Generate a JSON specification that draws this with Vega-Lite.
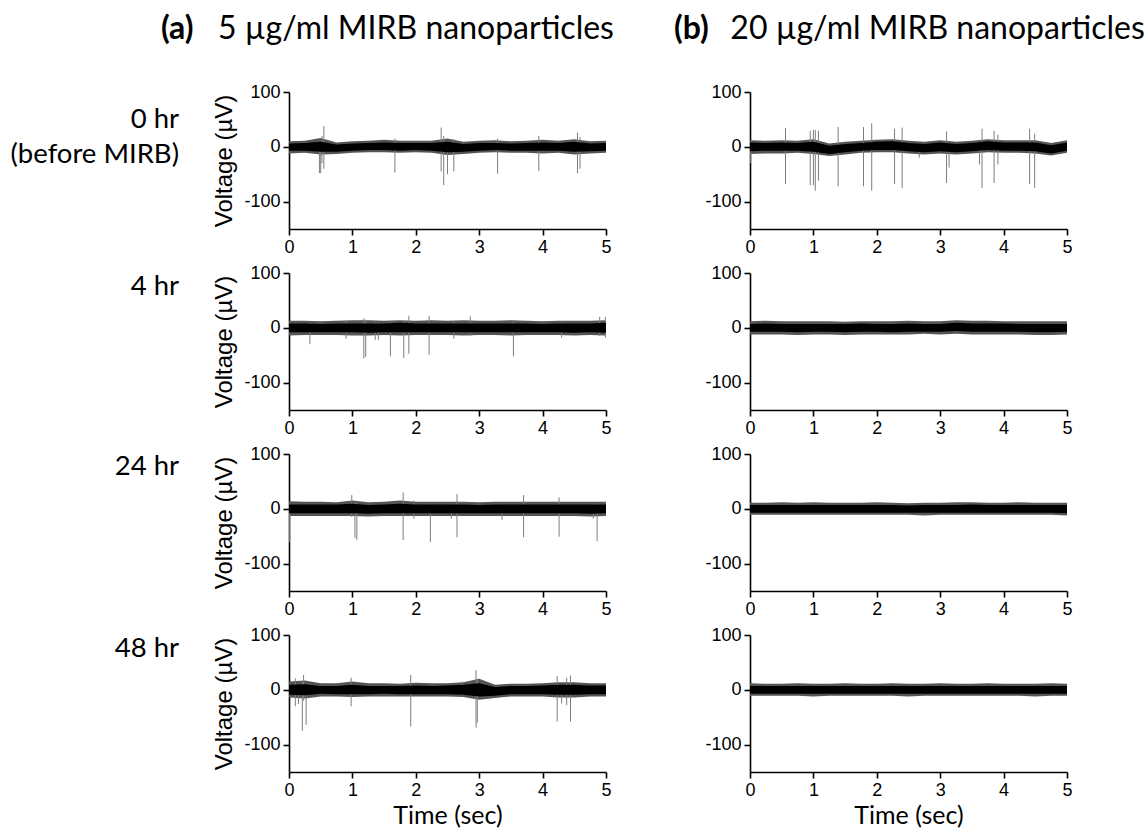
{
  "$schema": "https://vega.github.io/schema/vega-lite/v6.json",
  "padding": {"left": 10, "top": 12, "right": 5, "bottom": 2},
  "datasets": {
    "noise": [
      {"p":"a0","t":0,"lo":-7,"hi":6,"lo2":-12,"hi2":10},{"p":"a0","t":0.25,"lo":-7,"hi":7,"lo2":-11,"hi2":11},{"p":"a0","t":0.5,"lo":-9,"hi":9,"lo2":-14,"hi2":16},{"p":"a0","t":0.75,"lo":-9,"hi":4,"lo2":-13,"hi2":8},{"p":"a0","t":1,"lo":-7,"hi":6,"lo2":-11,"hi2":10},{"p":"a0","t":1.25,"lo":-6,"hi":7,"lo2":-10,"hi2":11},{"p":"a0","t":1.5,"lo":-6,"hi":8,"lo2":-10,"hi2":13},{"p":"a0","t":1.75,"lo":-7,"hi":7,"lo2":-11,"hi2":11},{"p":"a0","t":2,"lo":-6,"hi":7,"lo2":-10,"hi2":11},{"p":"a0","t":2.25,"lo":-7,"hi":7,"lo2":-11,"hi2":11},{"p":"a0","t":2.5,"lo":-10,"hi":9,"lo2":-15,"hi2":15},{"p":"a0","t":2.75,"lo":-9,"hi":5,"lo2":-13,"hi2":9},{"p":"a0","t":3,"lo":-7,"hi":7,"lo2":-11,"hi2":11},{"p":"a0","t":3.25,"lo":-6,"hi":7,"lo2":-10,"hi2":12},{"p":"a0","t":3.5,"lo":-7,"hi":6,"lo2":-11,"hi2":10},{"p":"a0","t":3.75,"lo":-7,"hi":7,"lo2":-11,"hi2":11},{"p":"a0","t":4,"lo":-7,"hi":8,"lo2":-12,"hi2":13},{"p":"a0","t":4.25,"lo":-7,"hi":7,"lo2":-11,"hi2":11},{"p":"a0","t":4.5,"lo":-9,"hi":9,"lo2":-14,"hi2":14},{"p":"a0","t":4.75,"lo":-8,"hi":6,"lo2":-12,"hi2":10},{"p":"a0","t":5,"lo":-7,"hi":7,"lo2":-11,"hi2":11},
      {"p":"b0","t":0,"lo":-8,"hi":8,"lo2":-13,"hi2":12},{"p":"b0","t":0.25,"lo":-7,"hi":7,"lo2":-12,"hi2":11},{"p":"b0","t":0.5,"lo":-7,"hi":8,"lo2":-12,"hi2":12},{"p":"b0","t":0.75,"lo":-7,"hi":7,"lo2":-11,"hi2":11},{"p":"b0","t":1,"lo":-9,"hi":9,"lo2":-13,"hi2":14},{"p":"b0","t":1.25,"lo":-13,"hi":2,"lo2":-17,"hi2":6},{"p":"b0","t":1.5,"lo":-10,"hi":5,"lo2":-14,"hi2":9},{"p":"b0","t":1.75,"lo":-7,"hi":7,"lo2":-11,"hi2":11},{"p":"b0","t":2,"lo":-6,"hi":9,"lo2":-10,"hi2":13},{"p":"b0","t":2.25,"lo":-6,"hi":10,"lo2":-10,"hi2":14},{"p":"b0","t":2.5,"lo":-8,"hi":7,"lo2":-12,"hi2":11},{"p":"b0","t":2.75,"lo":-10,"hi":5,"lo2":-14,"hi2":9},{"p":"b0","t":3,"lo":-8,"hi":8,"lo2":-12,"hi2":12},{"p":"b0","t":3.25,"lo":-10,"hi":5,"lo2":-14,"hi2":9},{"p":"b0","t":3.5,"lo":-8,"hi":7,"lo2":-12,"hi2":11},{"p":"b0","t":3.75,"lo":-6,"hi":10,"lo2":-10,"hi2":14},{"p":"b0","t":4,"lo":-7,"hi":8,"lo2":-11,"hi2":12},{"p":"b0","t":4.25,"lo":-7,"hi":8,"lo2":-11,"hi2":12},{"p":"b0","t":4.5,"lo":-8,"hi":8,"lo2":-12,"hi2":12},{"p":"b0","t":4.75,"lo":-12,"hi":3,"lo2":-16,"hi2":7},{"p":"b0","t":5,"lo":-7,"hi":8,"lo2":-11,"hi2":12},
      {"p":"a1","t":0,"lo":-8,"hi":8,"lo2":-14,"hi2":13},{"p":"a1","t":0.25,"lo":-8,"hi":8,"lo2":-13,"hi2":13},{"p":"a1","t":0.5,"lo":-8,"hi":7,"lo2":-13,"hi2":12},{"p":"a1","t":0.75,"lo":-8,"hi":8,"lo2":-13,"hi2":13},{"p":"a1","t":1,"lo":-8,"hi":8,"lo2":-14,"hi2":14},{"p":"a1","t":1.25,"lo":-9,"hi":8,"lo2":-14,"hi2":14},{"p":"a1","t":1.5,"lo":-8,"hi":8,"lo2":-13,"hi2":13},{"p":"a1","t":1.75,"lo":-8,"hi":9,"lo2":-14,"hi2":14},{"p":"a1","t":2,"lo":-8,"hi":8,"lo2":-13,"hi2":13},{"p":"a1","t":2.25,"lo":-8,"hi":8,"lo2":-13,"hi2":14},{"p":"a1","t":2.5,"lo":-8,"hi":8,"lo2":-13,"hi2":13},{"p":"a1","t":2.75,"lo":-8,"hi":8,"lo2":-14,"hi2":14},{"p":"a1","t":3,"lo":-8,"hi":8,"lo2":-13,"hi2":13},{"p":"a1","t":3.25,"lo":-8,"hi":8,"lo2":-13,"hi2":13},{"p":"a1","t":3.5,"lo":-8,"hi":8,"lo2":-14,"hi2":14},{"p":"a1","t":3.75,"lo":-8,"hi":8,"lo2":-13,"hi2":13},{"p":"a1","t":4,"lo":-8,"hi":7,"lo2":-13,"hi2":12},{"p":"a1","t":4.25,"lo":-8,"hi":8,"lo2":-13,"hi2":13},{"p":"a1","t":4.5,"lo":-9,"hi":8,"lo2":-14,"hi2":13},{"p":"a1","t":4.75,"lo":-8,"hi":8,"lo2":-13,"hi2":13},{"p":"a1","t":5,"lo":-9,"hi":9,"lo2":-14,"hi2":14},
      {"p":"b1","t":0,"lo":-7,"hi":7,"lo2":-12,"hi2":12},{"p":"b1","t":0.25,"lo":-7,"hi":8,"lo2":-12,"hi2":13},{"p":"b1","t":0.5,"lo":-7,"hi":7,"lo2":-12,"hi2":12},{"p":"b1","t":0.75,"lo":-8,"hi":7,"lo2":-13,"hi2":12},{"p":"b1","t":1,"lo":-7,"hi":7,"lo2":-12,"hi2":12},{"p":"b1","t":1.25,"lo":-7,"hi":7,"lo2":-12,"hi2":12},{"p":"b1","t":1.5,"lo":-8,"hi":7,"lo2":-13,"hi2":11},{"p":"b1","t":1.75,"lo":-7,"hi":8,"lo2":-12,"hi2":12},{"p":"b1","t":2,"lo":-7,"hi":7,"lo2":-12,"hi2":12},{"p":"b1","t":2.25,"lo":-8,"hi":7,"lo2":-12,"hi2":12},{"p":"b1","t":2.5,"lo":-7,"hi":8,"lo2":-12,"hi2":13},{"p":"b1","t":2.75,"lo":-7,"hi":7,"lo2":-11,"hi2":12},{"p":"b1","t":3,"lo":-7,"hi":7,"lo2":-12,"hi2":12},{"p":"b1","t":3.25,"lo":-6,"hi":9,"lo2":-11,"hi2":14},{"p":"b1","t":3.5,"lo":-7,"hi":8,"lo2":-12,"hi2":13},{"p":"b1","t":3.75,"lo":-7,"hi":8,"lo2":-12,"hi2":13},{"p":"b1","t":4,"lo":-7,"hi":8,"lo2":-12,"hi2":12},{"p":"b1","t":4.25,"lo":-7,"hi":7,"lo2":-12,"hi2":12},{"p":"b1","t":4.5,"lo":-8,"hi":7,"lo2":-13,"hi2":12},{"p":"b1","t":4.75,"lo":-8,"hi":7,"lo2":-13,"hi2":12},{"p":"b1","t":5,"lo":-7,"hi":7,"lo2":-12,"hi2":12},
      {"p":"a2","t":0,"lo":-8,"hi":8,"lo2":-13,"hi2":14},{"p":"a2","t":0.25,"lo":-8,"hi":8,"lo2":-13,"hi2":13},{"p":"a2","t":0.5,"lo":-8,"hi":8,"lo2":-13,"hi2":13},{"p":"a2","t":0.75,"lo":-8,"hi":8,"lo2":-13,"hi2":12},{"p":"a2","t":1,"lo":-8,"hi":9,"lo2":-13,"hi2":15},{"p":"a2","t":1.25,"lo":-9,"hi":7,"lo2":-14,"hi2":12},{"p":"a2","t":1.5,"lo":-8,"hi":8,"lo2":-13,"hi2":13},{"p":"a2","t":1.75,"lo":-8,"hi":9,"lo2":-13,"hi2":15},{"p":"a2","t":2,"lo":-8,"hi":8,"lo2":-13,"hi2":13},{"p":"a2","t":2.25,"lo":-8,"hi":8,"lo2":-13,"hi2":13},{"p":"a2","t":2.5,"lo":-8,"hi":8,"lo2":-13,"hi2":13},{"p":"a2","t":2.75,"lo":-8,"hi":8,"lo2":-13,"hi2":13},{"p":"a2","t":3,"lo":-8,"hi":7,"lo2":-13,"hi2":12},{"p":"a2","t":3.25,"lo":-8,"hi":8,"lo2":-13,"hi2":13},{"p":"a2","t":3.5,"lo":-8,"hi":8,"lo2":-13,"hi2":13},{"p":"a2","t":3.75,"lo":-8,"hi":8,"lo2":-13,"hi2":13},{"p":"a2","t":4,"lo":-8,"hi":8,"lo2":-13,"hi2":13},{"p":"a2","t":4.25,"lo":-8,"hi":8,"lo2":-13,"hi2":13},{"p":"a2","t":4.5,"lo":-8,"hi":8,"lo2":-13,"hi2":13},{"p":"a2","t":4.75,"lo":-9,"hi":8,"lo2":-14,"hi2":13},{"p":"a2","t":5,"lo":-8,"hi":8,"lo2":-13,"hi2":13},
      {"p":"b2","t":0,"lo":-7,"hi":7,"lo2":-11,"hi2":11},{"p":"b2","t":0.25,"lo":-7,"hi":7,"lo2":-11,"hi2":11},{"p":"b2","t":0.5,"lo":-7,"hi":7,"lo2":-11,"hi2":12},{"p":"b2","t":0.75,"lo":-7,"hi":7,"lo2":-11,"hi2":11},{"p":"b2","t":1,"lo":-7,"hi":7,"lo2":-11,"hi2":12},{"p":"b2","t":1.25,"lo":-7,"hi":7,"lo2":-11,"hi2":11},{"p":"b2","t":1.5,"lo":-7,"hi":7,"lo2":-11,"hi2":11},{"p":"b2","t":1.75,"lo":-7,"hi":7,"lo2":-11,"hi2":11},{"p":"b2","t":2,"lo":-7,"hi":7,"lo2":-11,"hi2":12},{"p":"b2","t":2.25,"lo":-7,"hi":7,"lo2":-11,"hi2":11},{"p":"b2","t":2.5,"lo":-7,"hi":6,"lo2":-11,"hi2":10},{"p":"b2","t":2.75,"lo":-7,"hi":7,"lo2":-12,"hi2":11},{"p":"b2","t":3,"lo":-7,"hi":7,"lo2":-11,"hi2":11},{"p":"b2","t":3.25,"lo":-7,"hi":7,"lo2":-11,"hi2":12},{"p":"b2","t":3.5,"lo":-7,"hi":8,"lo2":-11,"hi2":12},{"p":"b2","t":3.75,"lo":-7,"hi":7,"lo2":-11,"hi2":11},{"p":"b2","t":4,"lo":-7,"hi":7,"lo2":-11,"hi2":11},{"p":"b2","t":4.25,"lo":-7,"hi":7,"lo2":-11,"hi2":12},{"p":"b2","t":4.5,"lo":-7,"hi":7,"lo2":-11,"hi2":11},{"p":"b2","t":4.75,"lo":-7,"hi":7,"lo2":-11,"hi2":11},{"p":"b2","t":5,"lo":-8,"hi":7,"lo2":-12,"hi2":11},
      {"p":"a3","t":0,"lo":-9,"hi":9,"lo2":-14,"hi2":15},{"p":"a3","t":0.25,"lo":-10,"hi":10,"lo2":-16,"hi2":17},{"p":"a3","t":0.5,"lo":-7,"hi":7,"lo2":-12,"hi2":12},{"p":"a3","t":0.75,"lo":-8,"hi":7,"lo2":-12,"hi2":12},{"p":"a3","t":1,"lo":-8,"hi":9,"lo2":-13,"hi2":15},{"p":"a3","t":1.25,"lo":-8,"hi":7,"lo2":-12,"hi2":12},{"p":"a3","t":1.5,"lo":-7,"hi":7,"lo2":-12,"hi2":12},{"p":"a3","t":1.75,"lo":-8,"hi":7,"lo2":-12,"hi2":11},{"p":"a3","t":2,"lo":-8,"hi":8,"lo2":-12,"hi2":13},{"p":"a3","t":2.25,"lo":-8,"hi":7,"lo2":-12,"hi2":12},{"p":"a3","t":2.5,"lo":-8,"hi":8,"lo2":-12,"hi2":12},{"p":"a3","t":2.75,"lo":-9,"hi":9,"lo2":-13,"hi2":14},{"p":"a3","t":3,"lo":-12,"hi":12,"lo2":-18,"hi2":20},{"p":"a3","t":3.25,"lo":-11,"hi":5,"lo2":-15,"hi2":9},{"p":"a3","t":3.5,"lo":-8,"hi":7,"lo2":-12,"hi2":11},{"p":"a3","t":3.75,"lo":-8,"hi":7,"lo2":-12,"hi2":11},{"p":"a3","t":4,"lo":-8,"hi":8,"lo2":-12,"hi2":12},{"p":"a3","t":4.25,"lo":-9,"hi":9,"lo2":-14,"hi2":14},{"p":"a3","t":4.5,"lo":-9,"hi":9,"lo2":-14,"hi2":14},{"p":"a3","t":4.75,"lo":-8,"hi":8,"lo2":-12,"hi2":12},{"p":"a3","t":5,"lo":-8,"hi":8,"lo2":-12,"hi2":12},
      {"p":"b3","t":0,"lo":-7,"hi":7,"lo2":-11,"hi2":12},{"p":"b3","t":0.25,"lo":-7,"hi":7,"lo2":-11,"hi2":11},{"p":"b3","t":0.5,"lo":-7,"hi":7,"lo2":-11,"hi2":11},{"p":"b3","t":0.75,"lo":-7,"hi":7,"lo2":-11,"hi2":12},{"p":"b3","t":1,"lo":-7,"hi":7,"lo2":-12,"hi2":11},{"p":"b3","t":1.25,"lo":-7,"hi":7,"lo2":-11,"hi2":11},{"p":"b3","t":1.5,"lo":-7,"hi":7,"lo2":-11,"hi2":12},{"p":"b3","t":1.75,"lo":-7,"hi":7,"lo2":-11,"hi2":11},{"p":"b3","t":2,"lo":-7,"hi":7,"lo2":-11,"hi2":11},{"p":"b3","t":2.25,"lo":-7,"hi":7,"lo2":-11,"hi2":12},{"p":"b3","t":2.5,"lo":-7,"hi":7,"lo2":-12,"hi2":11},{"p":"b3","t":2.75,"lo":-7,"hi":7,"lo2":-11,"hi2":11},{"p":"b3","t":3,"lo":-7,"hi":7,"lo2":-11,"hi2":12},{"p":"b3","t":3.25,"lo":-7,"hi":7,"lo2":-11,"hi2":11},{"p":"b3","t":3.5,"lo":-7,"hi":7,"lo2":-11,"hi2":11},{"p":"b3","t":3.75,"lo":-7,"hi":7,"lo2":-11,"hi2":12},{"p":"b3","t":4,"lo":-7,"hi":7,"lo2":-11,"hi2":11},{"p":"b3","t":4.25,"lo":-7,"hi":7,"lo2":-11,"hi2":11},{"p":"b3","t":4.5,"lo":-7,"hi":7,"lo2":-12,"hi2":11},{"p":"b3","t":4.75,"lo":-7,"hi":7,"lo2":-11,"hi2":12},{"p":"b3","t":5,"lo":-7,"hi":7,"lo2":-11,"hi2":11}
    ],
    "spikes": [
      {"p":"a0","t":0.48,"lo":-48,"hi":5},{"p":"a0","t":0.5,"lo":-48,"hi":8},{"p":"a0","t":0.52,"lo":-30,"hi":20},{"p":"a0","t":0.55,"lo":-40,"hi":38},{"p":"a0","t":1.67,"lo":-47,"hi":15},{"p":"a0","t":2.4,"lo":-45,"hi":35},{"p":"a0","t":2.44,"lo":-70,"hi":20},{"p":"a0","t":2.5,"lo":-50,"hi":5},{"p":"a0","t":2.6,"lo":-45,"hi":14},{"p":"a0","t":3.29,"lo":-49,"hi":15},{"p":"a0","t":3.94,"lo":-44,"hi":20},{"p":"a0","t":4.55,"lo":-48,"hi":26},{"p":"a0","t":4.59,"lo":-40,"hi":18},
      {"p":"b0","t":0.01,"lo":-30,"hi":5},{"p":"b0","t":0.56,"lo":-68,"hi":34},{"p":"b0","t":0.95,"lo":-70,"hi":29},{"p":"b0","t":1.0,"lo":-70,"hi":31},{"p":"b0","t":1.03,"lo":-80,"hi":31},{"p":"b0","t":1.08,"lo":-62,"hi":29},{"p":"b0","t":1.39,"lo":-72,"hi":36},{"p":"b0","t":1.79,"lo":-72,"hi":36},{"p":"b0","t":1.92,"lo":-80,"hi":43},{"p":"b0","t":2.28,"lo":-68,"hi":33},{"p":"b0","t":2.4,"lo":-75,"hi":35},{"p":"b0","t":2.67,"lo":-20,"hi":5},{"p":"b0","t":3.1,"lo":-66,"hi":28},{"p":"b0","t":3.14,"lo":-38,"hi":5},{"p":"b0","t":3.62,"lo":-32,"hi":8},{"p":"b0","t":3.66,"lo":-75,"hi":33},{"p":"b0","t":3.85,"lo":-66,"hi":29},{"p":"b0","t":3.91,"lo":-32,"hi":22},{"p":"b0","t":4.41,"lo":-68,"hi":33},{"p":"b0","t":4.49,"lo":-75,"hi":24},
      {"p":"a1","t":0.33,"lo":-30,"hi":8},{"p":"a1","t":0.9,"lo":-20,"hi":12},{"p":"a1","t":1.18,"lo":-56,"hi":17},{"p":"a1","t":1.21,"lo":-53,"hi":15},{"p":"a1","t":1.36,"lo":-22,"hi":10},{"p":"a1","t":1.41,"lo":-22,"hi":10},{"p":"a1","t":1.6,"lo":-52,"hi":12},{"p":"a1","t":1.81,"lo":-55,"hi":12},{"p":"a1","t":1.89,"lo":-47,"hi":22},{"p":"a1","t":2.21,"lo":-49,"hi":22},{"p":"a1","t":2.6,"lo":-20,"hi":12},{"p":"a1","t":2.86,"lo":-15,"hi":21},{"p":"a1","t":3.54,"lo":-52,"hi":12},{"p":"a1","t":4.3,"lo":-18,"hi":10},{"p":"a1","t":4.9,"lo":-15,"hi":20},{"p":"a1","t":4.99,"lo":-18,"hi":20},
      {"p":"a2","t":0.01,"lo":-61,"hi":8},{"p":"a2","t":0.99,"lo":-15,"hi":25},{"p":"a2","t":1.04,"lo":-53,"hi":12},{"p":"a2","t":1.07,"lo":-57,"hi":12},{"p":"a2","t":1.8,"lo":-57,"hi":30},{"p":"a2","t":1.97,"lo":-18,"hi":15},{"p":"a2","t":2.23,"lo":-61,"hi":8},{"p":"a2","t":2.56,"lo":-18,"hi":8},{"p":"a2","t":2.65,"lo":-52,"hi":27},{"p":"a2","t":3.36,"lo":-20,"hi":8},{"p":"a2","t":3.7,"lo":-52,"hi":25},{"p":"a2","t":4.26,"lo":-51,"hi":21},{"p":"a2","t":4.8,"lo":-18,"hi":8},{"p":"a2","t":4.86,"lo":-59,"hi":8},
      {"p":"a3","t":0.1,"lo":-30,"hi":21},{"p":"a3","t":0.15,"lo":-26,"hi":10},{"p":"a3","t":0.21,"lo":-75,"hi":15},{"p":"a3","t":0.23,"lo":-20,"hi":27},{"p":"a3","t":0.27,"lo":-64,"hi":10},{"p":"a3","t":0.98,"lo":-30,"hi":22},{"p":"a3","t":1.92,"lo":-67,"hi":27},{"p":"a3","t":2.73,"lo":-12,"hi":15},{"p":"a3","t":2.95,"lo":-69,"hi":36},{"p":"a3","t":2.97,"lo":-60,"hi":20},{"p":"a3","t":4.23,"lo":-58,"hi":25},{"p":"a3","t":4.3,"lo":-25,"hi":8},{"p":"a3","t":4.38,"lo":-28,"hi":22},{"p":"a3","t":4.44,"lo":-58,"hi":26}
    ]
  },
  "columns": 2,
  "spacing": {"row": 44, "column": 144},
  "bounds": "flush",
  "concat": [
    {"width": 317, "height": 137, "layer": [
      {"data": {"name": "noise"}, "transform": [{"filter": "datum.p === 'a0'"}], "mark": {"type": "area", "color": "#555555"},
       "encoding": {"x": {"field": "t", "type": "quantitative", "scale": {"domain": [0, 5], "nice": false, "zero": false}, "axis": {"values": [0,1,2,3,4,5], "format": "d", "title": null}},
                    "y": {"field": "lo2", "type": "quantitative", "scale": {"domain": [-150, 100], "nice": false}, "axis": {"values": [-100, 0, 100], "labelExpr": "'' + datum.value", "title": "Voltage (µV)"}},
                    "y2": {"field": "hi2"}}},
      {"data": {"name": "spikes"}, "transform": [{"filter": "datum.p === 'a0'"}], "mark": {"type": "rule", "color": "#7d7d7d", "strokeWidth": 1},
       "encoding": {"x": {"field": "t", "type": "quantitative"}, "y": {"field": "lo", "type": "quantitative"}, "y2": {"field": "hi"}}},
      {"data": {"name": "noise"}, "transform": [{"filter": "datum.p === 'a0'"}], "mark": {"type": "area", "color": "#000000"},
       "encoding": {"x": {"field": "t", "type": "quantitative"}, "y": {"field": "lo", "type": "quantitative"}, "y2": {"field": "hi"}}},
      {"data": {"values": [{"label": "0 hr\n(before MIRB)"}]}, "mark": {"type": "text", "align": "right", "baseline": "middle", "lineBreak": "\n", "lineHeight": 35, "font": "Lato", "fontSize": 27.5, "color": "#000"},
       "encoding": {"x": {"datum": -1.735, "type": "quantitative"}, "y": {"datum": 48, "type": "quantitative"}, "text": {"field": "label"}}},
      {"data": {"values": [{"label": "(a)"}]}, "mark": {"type": "text", "align": "left", "baseline": "middle", "font": "Lato", "fontSize": 32, "fontWeight": "bold", "color": "#000"},
       "encoding": {"x": {"datum": -2.02, "type": "quantitative"}, "y": {"datum": 215, "type": "quantitative"}, "text": {"field": "label"}}},
      {"data": {"values": [{"label": "5 µg/ml MIRB nanoparticles"}]}, "mark": {"type": "text", "align": "left", "baseline": "middle", "font": "Lato", "fontSize": 32, "color": "#000"},
       "encoding": {"x": {"datum": -1.12, "type": "quantitative"}, "y": {"datum": 215, "type": "quantitative"}, "text": {"field": "label"}}}
    ]},
    {"width": 317, "height": 137, "layer": [
      {"data": {"name": "noise"}, "transform": [{"filter": "datum.p === 'b0'"}], "mark": {"type": "area", "color": "#555555"},
       "encoding": {"x": {"field": "t", "type": "quantitative", "scale": {"domain": [0, 5], "nice": false, "zero": false}, "axis": {"values": [0,1,2,3,4,5], "format": "d", "title": null}},
                    "y": {"field": "lo2", "type": "quantitative", "scale": {"domain": [-150, 100], "nice": false}, "axis": {"values": [-100, 0, 100], "labelExpr": "'' + datum.value", "title": null}},
                    "y2": {"field": "hi2"}}},
      {"data": {"name": "spikes"}, "transform": [{"filter": "datum.p === 'b0'"}], "mark": {"type": "rule", "color": "#7d7d7d", "strokeWidth": 1},
       "encoding": {"x": {"field": "t", "type": "quantitative"}, "y": {"field": "lo", "type": "quantitative"}, "y2": {"field": "hi"}}},
      {"data": {"name": "noise"}, "transform": [{"filter": "datum.p === 'b0'"}], "mark": {"type": "area", "color": "#000000"},
       "encoding": {"x": {"field": "t", "type": "quantitative"}, "y": {"field": "lo", "type": "quantitative"}, "y2": {"field": "hi"}}},
      {"data": {"values": [{"label": "(b)"}]}, "mark": {"type": "text", "align": "left", "baseline": "middle", "font": "Lato", "fontSize": 32, "fontWeight": "bold", "color": "#000"},
       "encoding": {"x": {"datum": -1.2, "type": "quantitative"}, "y": {"datum": 215, "type": "quantitative"}, "text": {"field": "label"}}},
      {"data": {"values": [{"label": "20 µg/ml MIRB nanoparticles"}]}, "mark": {"type": "text", "align": "left", "baseline": "middle", "font": "Lato", "fontSize": 32, "color": "#000"},
       "encoding": {"x": {"datum": -0.31, "type": "quantitative"}, "y": {"datum": 215, "type": "quantitative"}, "text": {"field": "label"}}}
    ]},
    {"width": 317, "height": 137, "layer": [
      {"data": {"name": "noise"}, "transform": [{"filter": "datum.p === 'a1'"}], "mark": {"type": "area", "color": "#555555"},
       "encoding": {"x": {"field": "t", "type": "quantitative", "scale": {"domain": [0, 5], "nice": false, "zero": false}, "axis": {"values": [0,1,2,3,4,5], "format": "d", "title": null}},
                    "y": {"field": "lo2", "type": "quantitative", "scale": {"domain": [-150, 100], "nice": false}, "axis": {"values": [-100, 0, 100], "labelExpr": "'' + datum.value", "title": "Voltage (µV)"}},
                    "y2": {"field": "hi2"}}},
      {"data": {"name": "spikes"}, "transform": [{"filter": "datum.p === 'a1'"}], "mark": {"type": "rule", "color": "#7d7d7d", "strokeWidth": 1},
       "encoding": {"x": {"field": "t", "type": "quantitative"}, "y": {"field": "lo", "type": "quantitative"}, "y2": {"field": "hi"}}},
      {"data": {"name": "noise"}, "transform": [{"filter": "datum.p === 'a1'"}], "mark": {"type": "area", "color": "#000000"},
       "encoding": {"x": {"field": "t", "type": "quantitative"}, "y": {"field": "lo", "type": "quantitative"}, "y2": {"field": "hi"}}},
      {"data": {"values": [{"label": "4 hr"}]}, "mark": {"type": "text", "align": "right", "baseline": "middle", "font": "Lato", "fontSize": 27.5, "color": "#000"},
       "encoding": {"x": {"datum": -1.735, "type": "quantitative"}, "y": {"datum": 74, "type": "quantitative"}, "text": {"field": "label"}}}
    ]},
    {"width": 317, "height": 137, "layer": [
      {"data": {"name": "noise"}, "transform": [{"filter": "datum.p === 'b1'"}], "mark": {"type": "area", "color": "#555555"},
       "encoding": {"x": {"field": "t", "type": "quantitative", "scale": {"domain": [0, 5], "nice": false, "zero": false}, "axis": {"values": [0,1,2,3,4,5], "format": "d", "title": null}},
                    "y": {"field": "lo2", "type": "quantitative", "scale": {"domain": [-150, 100], "nice": false}, "axis": {"values": [-100, 0, 100], "labelExpr": "'' + datum.value", "title": null}},
                    "y2": {"field": "hi2"}}},
      {"data": {"name": "noise"}, "transform": [{"filter": "datum.p === 'b1'"}], "mark": {"type": "area", "color": "#000000"},
       "encoding": {"x": {"field": "t", "type": "quantitative"}, "y": {"field": "lo", "type": "quantitative"}, "y2": {"field": "hi"}}}
    ]},
    {"width": 317, "height": 137, "layer": [
      {"data": {"name": "noise"}, "transform": [{"filter": "datum.p === 'a2'"}], "mark": {"type": "area", "color": "#555555"},
       "encoding": {"x": {"field": "t", "type": "quantitative", "scale": {"domain": [0, 5], "nice": false, "zero": false}, "axis": {"values": [0,1,2,3,4,5], "format": "d", "title": null}},
                    "y": {"field": "lo2", "type": "quantitative", "scale": {"domain": [-150, 100], "nice": false}, "axis": {"values": [-100, 0, 100], "labelExpr": "'' + datum.value", "title": "Voltage (µV)"}},
                    "y2": {"field": "hi2"}}},
      {"data": {"name": "spikes"}, "transform": [{"filter": "datum.p === 'a2'"}], "mark": {"type": "rule", "color": "#7d7d7d", "strokeWidth": 1},
       "encoding": {"x": {"field": "t", "type": "quantitative"}, "y": {"field": "lo", "type": "quantitative"}, "y2": {"field": "hi"}}},
      {"data": {"name": "noise"}, "transform": [{"filter": "datum.p === 'a2'"}], "mark": {"type": "area", "color": "#000000"},
       "encoding": {"x": {"field": "t", "type": "quantitative"}, "y": {"field": "lo", "type": "quantitative"}, "y2": {"field": "hi"}}},
      {"data": {"values": [{"label": "24 hr"}]}, "mark": {"type": "text", "align": "right", "baseline": "middle", "font": "Lato", "fontSize": 27.5, "color": "#000"},
       "encoding": {"x": {"datum": -1.735, "type": "quantitative"}, "y": {"datum": 76, "type": "quantitative"}, "text": {"field": "label"}}}
    ]},
    {"width": 317, "height": 137, "layer": [
      {"data": {"name": "noise"}, "transform": [{"filter": "datum.p === 'b2'"}], "mark": {"type": "area", "color": "#555555"},
       "encoding": {"x": {"field": "t", "type": "quantitative", "scale": {"domain": [0, 5], "nice": false, "zero": false}, "axis": {"values": [0,1,2,3,4,5], "format": "d", "title": null}},
                    "y": {"field": "lo2", "type": "quantitative", "scale": {"domain": [-150, 100], "nice": false}, "axis": {"values": [-100, 0, 100], "labelExpr": "'' + datum.value", "title": null}},
                    "y2": {"field": "hi2"}}},
      {"data": {"name": "noise"}, "transform": [{"filter": "datum.p === 'b2'"}], "mark": {"type": "area", "color": "#000000"},
       "encoding": {"x": {"field": "t", "type": "quantitative"}, "y": {"field": "lo", "type": "quantitative"}, "y2": {"field": "hi"}}}
    ]},
    {"width": 317, "height": 137, "layer": [
      {"data": {"name": "noise"}, "transform": [{"filter": "datum.p === 'a3'"}], "mark": {"type": "area", "color": "#555555"},
       "encoding": {"x": {"field": "t", "type": "quantitative", "scale": {"domain": [0, 5], "nice": false, "zero": false}, "axis": {"values": [0,1,2,3,4,5], "format": "d", "title": "Time (sec)"}},
                    "y": {"field": "lo2", "type": "quantitative", "scale": {"domain": [-150, 100], "nice": false}, "axis": {"values": [-100, 0, 100], "labelExpr": "'' + datum.value", "title": "Voltage (µV)"}},
                    "y2": {"field": "hi2"}}},
      {"data": {"name": "spikes"}, "transform": [{"filter": "datum.p === 'a3'"}], "mark": {"type": "rule", "color": "#7d7d7d", "strokeWidth": 1},
       "encoding": {"x": {"field": "t", "type": "quantitative"}, "y": {"field": "lo", "type": "quantitative"}, "y2": {"field": "hi"}}},
      {"data": {"name": "noise"}, "transform": [{"filter": "datum.p === 'a3'"}], "mark": {"type": "area", "color": "#000000"},
       "encoding": {"x": {"field": "t", "type": "quantitative"}, "y": {"field": "lo", "type": "quantitative"}, "y2": {"field": "hi"}}},
      {"data": {"values": [{"label": "48 hr"}]}, "mark": {"type": "text", "align": "right", "baseline": "middle", "font": "Lato", "fontSize": 27.5, "color": "#000"},
       "encoding": {"x": {"datum": -1.735, "type": "quantitative"}, "y": {"datum": 74, "type": "quantitative"}, "text": {"field": "label"}}}
    ]},
    {"width": 317, "height": 137, "layer": [
      {"data": {"name": "noise"}, "transform": [{"filter": "datum.p === 'b3'"}], "mark": {"type": "area", "color": "#555555"},
       "encoding": {"x": {"field": "t", "type": "quantitative", "scale": {"domain": [0, 5], "nice": false, "zero": false}, "axis": {"values": [0,1,2,3,4,5], "format": "d", "title": "Time (sec)"}},
                    "y": {"field": "lo2", "type": "quantitative", "scale": {"domain": [-150, 100], "nice": false}, "axis": {"values": [-100, 0, 100], "labelExpr": "'' + datum.value", "title": null}},
                    "y2": {"field": "hi2"}}},
      {"data": {"name": "noise"}, "transform": [{"filter": "datum.p === 'b3'"}], "mark": {"type": "area", "color": "#000000"},
       "encoding": {"x": {"field": "t", "type": "quantitative"}, "y": {"field": "lo", "type": "quantitative"}, "y2": {"field": "hi"}}}
    ]}
  ],
  "config": {
    "view": {"stroke": null},
    "axis": {"grid": false, "domainColor": "#000", "domainWidth": 1.6, "tickColor": "#000", "tickWidth": 1.6, "tickSize": 6, "labelFont": "Liberation Sans", "labelFontSize": 18, "labelColor": "#000", "labelPadding": 3, "titleColor": "#000", "titleFontWeight": "normal", "labelFlush": false},
    "axisY": {"titleFont": "Liberation Sans", "titleFontSize": 24, "titlePadding": 7},
    "axisX": {"titleFont": "Lato", "titleFontSize": 25, "titlePadding": 4}
  }
}
